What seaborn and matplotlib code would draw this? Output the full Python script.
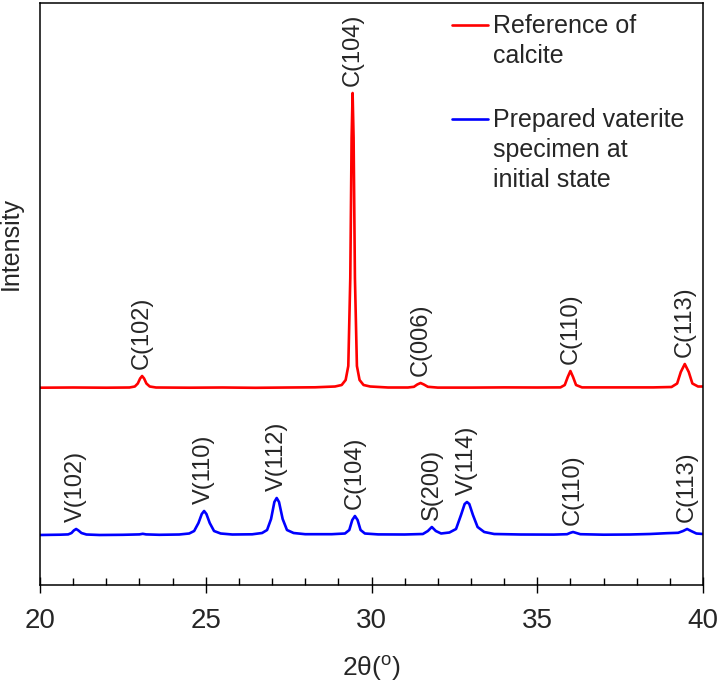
import matplotlib
matplotlib.use("Agg")
import matplotlib.pyplot as plt
import numpy as np
import seaborn as sns
from matplotlib.ticker import MultipleLocator

# calcite reference pattern (2theta, intensity a.u.)
calcite_2theta = [20.0, 21.0, 22.0, 22.7, 22.86, 22.95, 23.02, 23.08, 23.14, 23.21,
                  23.31, 23.5, 24.5, 25.5, 26.5, 27.5, 28.3, 28.9, 29.1, 29.22,
                  29.3, 29.36, 29.4, 29.43, 29.46, 29.5, 29.56, 29.64, 29.76, 29.96,
                  30.5, 31.1, 31.28, 31.38, 31.48, 31.58, 31.7, 32.0, 33.0, 34.0,
                  35.0, 35.7, 35.83, 35.92, 36.0, 36.08, 36.17, 36.35, 37.5, 38.5,
                  39.05, 39.22, 39.33, 39.45, 39.57, 39.68, 39.85, 40.0]
calcite_int = [0.3, 0.5, 0.3, 0.5, 1.5, 4.5, 9.5, 12, 9.5, 4.5,
               1.5, 0.5, 0.3, 0.5, 0.2, 0.5, 0.7, 1.5, 3, 8,
               22, 110, 250, 295, 250, 110, 22, 8, 3, 1.5,
               0.5, 0.5, 1.2, 3.5, 5, 3.5, 1.2, 0.4, 0.4, 0.6,
               0.5, 0.6, 3, 11, 17, 11, 3, 0.6, 0.6, 0.6,
               1, 4.5, 16, 24, 16, 4.5, 1.5, 1.5]

# prepared vaterite specimen at initial state
vaterite_2theta = [20.0, 20.6, 20.85, 20.95, 21.02, 21.09, 21.16, 21.25, 21.4, 21.8,
                   22.5, 23.0, 23.1, 23.2, 23.6, 24.2, 24.5, 24.65, 24.78, 24.88,
                   24.95, 25.02, 25.12, 25.25, 25.45, 25.8, 26.4, 26.7, 26.85, 26.97,
                   27.07, 27.14, 27.21, 27.32, 27.45, 27.65, 28.0, 28.8, 29.2, 29.33,
                   29.42, 29.5, 29.58, 29.67, 29.8, 30.2, 31.0, 31.55, 31.7, 31.82,
                   31.94, 32.1, 32.35, 32.55, 32.7, 32.81, 32.88, 32.95, 33.06, 33.2,
                   33.4, 33.7, 34.5, 35.5, 35.9, 36.0, 36.08, 36.16, 36.3, 37.0,
                   37.8, 38.4, 38.9, 39.25, 39.4, 39.52, 39.64, 39.8, 40.0]
vaterite_int = [0, 0.3, 0.6, 2, 4.5, 6, 4.5, 2, 0.5, 0,
                0.2, 0.6, 1.2, 0.6, 0.2, 0.5, 1.5, 4, 12, 21,
                24, 21, 12, 4, 1.5, 0.5, 0.7, 2, 5, 16,
                33, 37, 33, 16, 5, 2, 0.8, 0.8, 1.5, 5,
                15, 19, 15, 5, 1.5, 0.6, 0.5, 1, 4, 8,
                4, 1.5, 2.5, 6, 20, 31, 33, 31, 20, 8,
                3, 1, 0.5, 0.4, 0.8, 2.2, 3, 2.2, 0.8, 0.3,
                0.5, 1, 1.8, 2.2, 4, 6, 4, 1.5, 1]

calcite_offset = 147

calcite_peaks = [23.08, 29.43, 31.48, 36.0, 39.45]
calcite_labels = ["C(102)", "C(104)", "C(006)", "C(110)", "C(113)"]
vaterite_peaks = [21.09, 24.95, 27.14, 29.5, 31.82, 32.88, 36.08, 39.52]
vaterite_labels = ["V(102)", "V(110)", "V(112)", "C(104)", "S(200)", "V(114)", "C(110)", "C(113)"]

sns.set_style("ticks")
plt.rcParams["font.family"] = ["Liberation Sans", "DejaVu Sans"]
plt.rcParams["mathtext.fontset"] = "custom"
plt.rcParams["mathtext.rm"] = "Liberation Sans"

fig = plt.figure(figsize=(7.2, 6.84), dpi=100)
ax = fig.add_axes([40 / 720, 99 / 684, 663 / 720, 582 / 684])

cal_y = np.array(calcite_int) + calcite_offset
sns.lineplot(x=calcite_2theta, y=cal_y, ax=ax, color="#ff0000", lw=1.9,
             label="Reference of\ncalcite", sort=False)
sns.lineplot(x=vaterite_2theta, y=vaterite_int, ax=ax, color="#0000ff", lw=1.9,
             label="Prepared vaterite\nspecimen at\ninitial state", sort=False)

for x, lab in zip(calcite_peaks, calcite_labels):
    y = np.interp(x, calcite_2theta, cal_y)
    ax.annotate(lab, (x, y), xytext=(0, 5), textcoords="offset points",
                rotation=90, ha="center", va="bottom", fontsize=17)
for x, lab in zip(vaterite_peaks, vaterite_labels):
    y = np.interp(x, vaterite_2theta, vaterite_int)
    ax.annotate(lab, (x, y), xytext=(0, 5), textcoords="offset points",
                rotation=90, ha="center", va="bottom", fontsize=17)

ax.set_xlim(20, 40)
ax.set_ylim(-50, 532)
ax.set_yticks([])
ax.xaxis.set_major_locator(MultipleLocator(5))
ax.xaxis.set_minor_locator(MultipleLocator(1))
ax.tick_params(axis="x", which="major", direction="inout", length=11, width=1,
               labelsize=20, pad=11, color="black")
ax.tick_params(axis="x", which="minor", direction="in", length=5, width=1, color="black")
for s in ax.spines.values():
    s.set_linewidth(1.1)
    s.set_color("black")

ax.set_xlabel(r"2θ($^{\mathrm{o}}$)", fontsize=19, labelpad=14)
ax.set_ylabel("Intensity", fontsize=18)
ax.yaxis.set_label_coords(-0.026, 0.586)

leg = ax.legend(loc="upper left", bbox_to_anchor=(452 / 720, 670 / 684),
                bbox_transform=fig.transFigure, frameon=False, fontsize=18,
                handlelength=1.45, handletextpad=0.2, handleheight=1.3,
                labelspacing=1.6, borderpad=0, borderaxespad=0)
for t in leg.get_texts():
    t.set_linespacing(1.32)
for col in leg._legend_handle_box.get_children():
    for item in col.get_children():
        item.align = "top"

fig.savefig("out.png", dpi=100)
